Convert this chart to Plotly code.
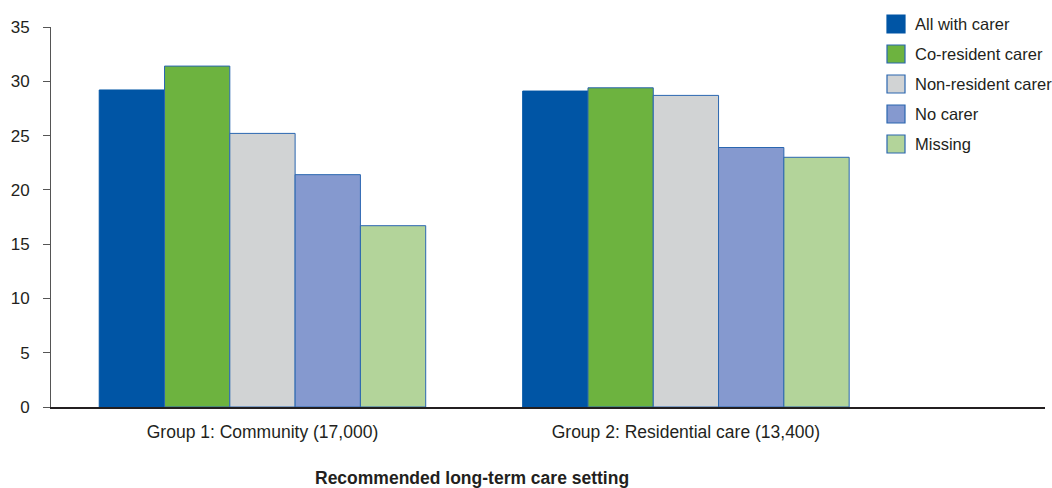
import plotly.graph_objects as go

# Recommended long-term care setting (x categories)
groups = ["Group 1: Community (17,000)", "Group 2: Residential care (13,400)"]

# Carer status series
series = ["All with carer", "Co-resident carer", "Non-resident carer", "No carer", "Missing"]
colors = ["#0055A5", "#6DB33F", "#D1D3D4", "#8599CF", "#B3D49A"]

values_all_with_carer = [29.2, 29.1]
values_co_resident = [31.4, 29.4]
values_non_resident = [25.2, 28.7]
values_no_carer = [21.4, 23.9]
values_missing = [16.7, 23.0]

y_ticks = [0, 5, 10, 15, 20, 25, 30, 35]

FONT = "Liberation Sans, Arial, sans-serif"
INK = "#231F20"
OUTLINE = "#2A66B0"

all_values = [values_all_with_carer, values_co_resident, values_non_resident,
              values_no_carer, values_missing]

fig = go.Figure()
for name, col, vals in zip(series, colors, all_values):
    fig.add_trace(go.Bar(
        x=groups, y=vals, name=name,
        marker=dict(color=col, line=dict(color=OUTLINE if col != colors[0] else col, width=1)),
        showlegend=False,
    ))

W, H = 1052, 488
ml, mr, mt, mb = 51, 7, 27, 81
pw, ph = W - ml - mr, H - mt - mb

def px_x(px):
    return (px - ml) / pw

def px_y(py):
    return (H - mb - py) / ph

# Hand-built legend with larger square swatches
shapes = []
annotations = []
for i, (name, col) in enumerate(zip(series, colors)):
    cy = 24 + 30 * i
    shapes.append(dict(
        type="rect", xref="paper", yref="paper",
        x0=px_x(887), x1=px_x(905), y0=px_y(cy + 9), y1=px_y(cy - 9),
        fillcolor=col, line=dict(color=OUTLINE if i else col, width=1.2),
    ))
    annotations.append(dict(
        xref="paper", yref="paper", x=px_x(913), y=px_y(cy),
        xanchor="left", yanchor="middle", text=name, showarrow=False,
        font=dict(family=FONT, size=16.5, color=INK),
    ))

annotations.append(dict(
    xref="paper", yref="paper", x=px_x(472), y=px_y(478),
    xanchor="center", yanchor="middle", showarrow=False,
    text="<b>Recommended long-term care setting</b>",
    font=dict(family=FONT, size=17.5, color=INK),
))

fig.update_layout(
    width=W, height=H,
    margin=dict(l=ml, r=mr, t=mt, b=mb, pad=0),
    paper_bgcolor="white", plot_bgcolor="white",
    barmode="group", bargap=0.229, bargroupgap=0,
    font=dict(family=FONT, size=17, color=INK),
    shapes=shapes, annotations=annotations,
    xaxis=dict(
        range=[-0.4994, 1.848], showgrid=False, zeroline=False,
        showline=True, linecolor=INK, linewidth=1.5,
        ticks="", tickfont=dict(family=FONT, size=17.5, color=INK),
        ticklabelstandoff=8,
    ),
    yaxis=dict(
        range=[0, 35], tickvals=y_ticks, showgrid=False, zeroline=False,
        showline=True, linecolor="#555555", linewidth=1,
        ticks="outside", ticklen=7, tickcolor="#555555", tickwidth=1,
        tickfont=dict(family=FONT, size=17, color=INK),
        ticklabelstandoff=10,
    ),
)

fig.write_html("out.html")
